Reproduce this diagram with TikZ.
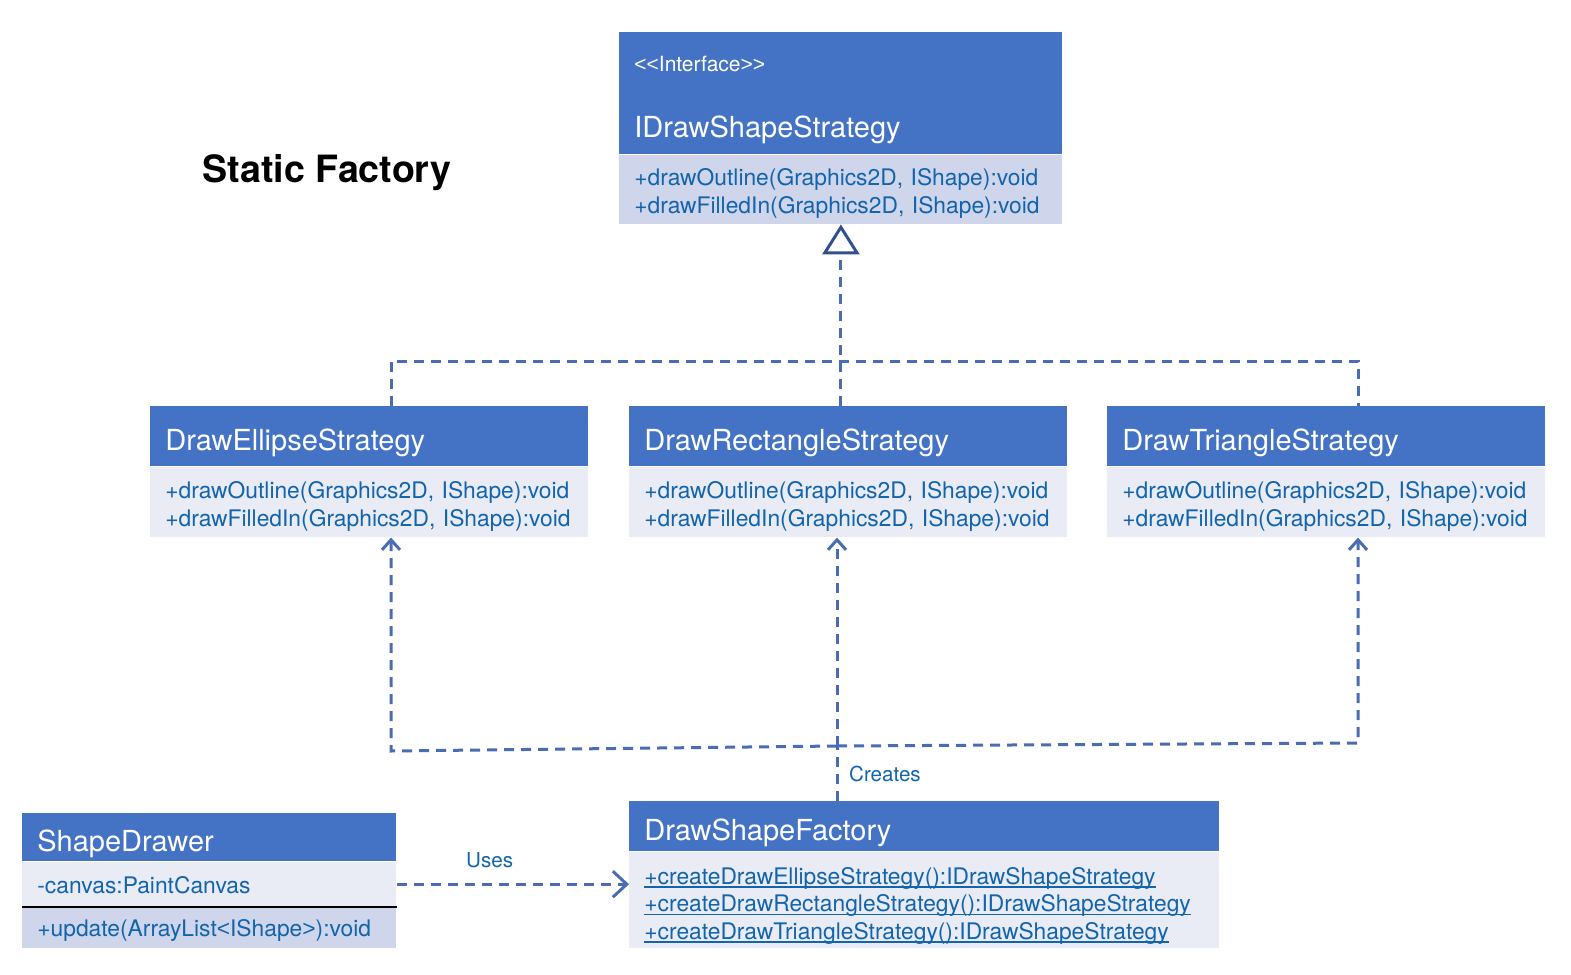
\documentclass[tikz,border=0pt]{standalone}
\usepackage{fontspec}
\setmainfont{TeX Gyre Heros}
\newfontfamily\umlsym{Liberation Sans}
\usetikzlibrary{positioning,arrows.meta}
\definecolor{umlhead}{RGB}{68,114,196}
\definecolor{umllight}{RGB}{233,235,245}
\definecolor{umldark}{RGB}{207,213,234}
\definecolor{umltext}{RGB}{18,100,172}
\definecolor{umlline}{RGB}{74,108,178}
\definecolor{umltri}{RGB}{50,80,140}
\newcommand{\umlul}[1]{\leavevmode\setbox0\hbox{#1}\rlap{\rule[-1.6pt]{\wd0}{0.6pt}}\box0}
\newcommand{\umllt}{\mbox{\umlsym <}}
\newcommand{\umlgt}{\mbox{\umlsym >}}
\begin{document}
\begin{tikzpicture}[x=0.5pt, y=-0.5pt,
    classhead/.style={fill=umlhead, text=white, anchor=north west, inner xsep=7.5pt, inner ysep=0pt, align=left, minimum height=30pt, text height=14pt, text depth=0pt, font=\fontsize{14.5}{17}\selectfont},
    classbody/.style={fill=umllight, text=umltext, anchor=north west, inner xsep=7.5pt, inner ysep=0pt, align=left, minimum height=35pt, text height=10pt, text depth=14pt, font=\fontsize{11.4}{14}\selectfont},
    dep/.style={umlline, line width=1.5pt, dash pattern=on 5pt off 3.5pt},
    deptip/.style={-{Straight Barb[length=5pt,width=9pt,line width=1.5pt]}},
    lbl/.style={text=umltext, font=\fontsize{10.3}{12}\selectfont}]
    \useasboundingbox (0,0) rectangle (1571,975);

    \node[font=\fontsize{18.8}{22}\bfseries\selectfont] (title) at (327,173) {Static Factory};

    % interface
    \node[classhead, text width=206.5pt, minimum height=31pt, text height=8.5pt, font=\fontsize{10.5}{12}\selectfont] (ifaceTop) at (619,32) {\umllt\umllt Interface\umlgt\umlgt};
    \node[classhead, text width=206.5pt, minimum height=30.5pt, below right=-1pt and 0pt of ifaceTop.south west] (ifaceHead) {IDrawShapeStrategy};
    \node[classbody, fill=umldark, text width=206.5pt, minimum height=34.5pt, below right=0pt of ifaceHead.south west] (ifaceBody) {+drawOutline(Graphics2D, IShape):void\\+drawFilledIn(Graphics2D, IShape):void};

    % strategies
    \node[classhead, text width=204pt] (ellipseHead) at (150,406) {DrawEllipseStrategy};
    \node[classbody, text width=204pt, below right=0pt of ellipseHead.south west] (ellipseBody) {+drawOutline(Graphics2D, IShape):void\\+drawFilledIn(Graphics2D, IShape):void};
    \node[classhead, text width=204pt] (rectHead) at (629,406) {DrawRectangleStrategy};
    \node[classbody, text width=204pt, below right=0pt of rectHead.south west] (rectBody) {+drawOutline(Graphics2D, IShape):void\\+drawFilledIn(Graphics2D, IShape):void};
    \node[classhead, text width=204pt] (triHead) at (1107,406) {DrawTriangleStrategy};
    \node[classbody, text width=204pt, below right=0pt of triHead.south west] (triBody) {+drawOutline(Graphics2D, IShape):void\\+drawFilledIn(Graphics2D, IShape):void};

    % factory
    \node[classhead, text width=280pt, minimum height=25pt] (factoryHead) at (629,801) {DrawShapeFactory};
    \node[classbody, text width=280pt, minimum height=48pt, text height=11.7pt, text depth=27.5pt, font=\fontsize{11.4}{13.75}\selectfont, below right=0pt of factoryHead.south west] (factoryBody) {\umlul{+createDrawEllipseStrategy():IDrawShapeStrategy}\\\umlul{+createDrawRectangleStrategy():IDrawShapeStrategy}\\\umlul{+createDrawTriangleStrategy():IDrawShapeStrategy}};

    % drawer
    \node[classhead, text width=172pt, minimum height=24pt] (drawerHead) at (22,813) {ShapeDrawer};
    \node[classbody, text width=172pt, minimum height=22pt, text height=9pt, text depth=0pt, below right=0pt of drawerHead.south west] (drawerAttr) {-canvas:PaintCanvas};
    \node[classbody, fill=umldark, text width=172pt, minimum height=20.5pt, text height=9pt, text depth=0pt, below right=0pt of drawerAttr.south west] (drawerOps) {+update(ArrayList\umllt IShape\umlgt):void};
    \draw[line width=1pt] (drawerAttr.south west) -- (drawerAttr.south east);

    % realization
    \coordinate (busL) at (391,361);
    \coordinate (busR) at (1358,361);
    \draw[dep, -{Triangle[open, color=umltri, length=15pt, width=18.5pt, line width=1.5pt]}] (rectHead.north -| ifaceBody.south) -- (ifaceBody.south);
    \draw[dep] (ellipseHead.north -| busL) -- (busL) -- (busR) -- (triHead.north -| busR);

    % creates
    \coordinate (hub) at (837,746);
    \coordinate (elbowL) at (391,751);
    \coordinate (elbowR) at (1358,743);
    \draw[dep] (factoryHead.north -| hub) -- node[lbl, right, midway, xshift=2pt] {Creates} (hub);
    \draw[dep, deptip] (hub) -- (elbowL) -- (ellipseBody.south -| elbowL);
    \draw[dep, deptip] (hub) -- (rectBody.south -| hub);
    \draw[dep, deptip] (hub) -- (elbowR) -- (triBody.south -| elbowR);

    % uses
    \draw[dep, -{Straight Barb[length=7pt,width=13pt,line width=1.5pt]}] (drawerAttr.east) -- node[lbl, above=4pt, pos=0.4] {Uses} (factoryBody.west |- drawerAttr.east);
\end{tikzpicture}
\end{document}
